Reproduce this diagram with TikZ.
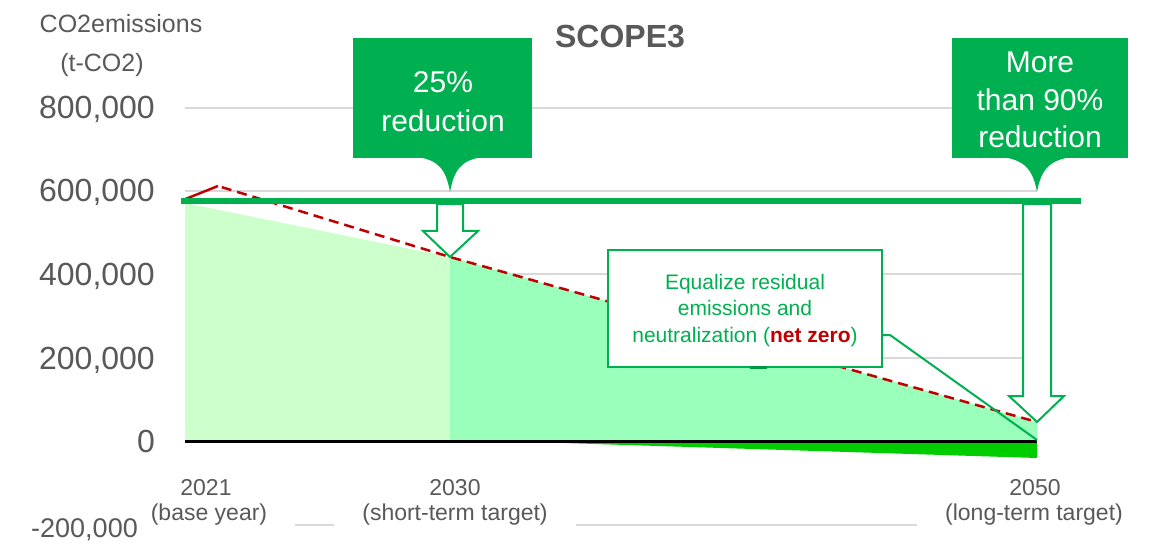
\documentclass[tikz,border=0pt]{standalone}
\usepackage{fontspec}
\setmainfont{Liberation Sans}
\definecolor{cgreen}{HTML}{00B050}
\definecolor{cred}{HTML}{C00000}
\definecolor{fillA}{HTML}{CCFFCC}
\definecolor{fillB}{HTML}{99FFBB}
\definecolor{fillC}{HTML}{00CC00}
\definecolor{gridgray}{HTML}{D9D9D9}
\definecolor{txtgray}{HTML}{595959}
\begin{document}
\begin{tikzpicture}[x=1pt,y=-1pt,
  gridline/.style={draw=gridgray, line width=2pt},
  ticklab/.style={anchor=base east, text=txtgray, inner sep=0pt, font=\fontsize{32}{32}\selectfont},
  xlab/.style={anchor=base, text=txtgray, inner sep=0pt, font=\fontsize{23}{23}\selectfont},
  xlabbg/.style={xlab, fill=white, inner xsep=28pt, inner ysep=4pt},
  calltxt/.style={anchor=base, text=white, inner sep=0pt, font=\fontsize{30}{30}\selectfont},
  boxtxt/.style={anchor=base, text=cgreen, inner sep=0pt, font=\fontsize{21}{21}\selectfont},
  hollow/.style={draw=cgreen, fill=white, line width=2pt, line join=miter},
  callbox/.style={fill=cgreen, inner sep=0pt}
]
\useasboundingbox (0,0) rectangle (1152,548);
% gridlines
\foreach \yy in {108,191,274,358,525} \draw[gridline] (185,\yy) -- (1037,\yy);
% fills
\fill[fillA] (185,203) -- (450,257) -- (450,441) -- (185,441) -- cycle;
\fill[fillB] (450,257) -- (1037,422) -- (1037,441) -- (450,441) -- cycle;
\fill[fillC] (500,441) -- (1037,441) -- (1037,458) -- cycle;
% zero line
\draw[black, line width=3pt] (185,441) -- (1037,441);
% red emissions line
\coordinate (r0) at (183,200);
\coordinate (r1) at (218,186);
\coordinate (r2) at (450,257);
\coordinate (r3) at (1037,422);
\draw[cred, line width=2.5pt, line join=round] (r0) -- (r1);
\draw[cred, line width=2.5pt, dash pattern=on 10pt off 6pt, dash phase=-4pt] (r1) -- (r2) -- (r3);
% hollow arrows
\draw[hollow] (437,204) -- (463,204) -- (463,231) -- (478,231) -- (450,257) -- (423,231) -- (437,231) -- cycle;
\draw[hollow] (1023,204) -- (1051,204) -- (1051,396) -- (1064,396) -- (1037,422) -- (1009,396) -- (1023,396) -- cycle;
% base-year level line
\draw[cgreen, line width=6pt] (181,201) -- (1081,201);
% net zero text box
\node[draw=cgreen, line width=2pt, fill=white, minimum width=274pt, minimum height=117pt, inner sep=0pt] (tb) at (745,308.5) {};
\node[boxtxt] (tb1) at (745,290) {Equalize residual};
\node[boxtxt] (tb2) at (745,316) {emissions and};
\node[boxtxt] (tb3) at (745,342) {neutralization (\textcolor{cred}{\textbf{net zero}})};
\draw[cgreen!85!black, line width=3pt] (750,367) -- (767,367);
\coordinate (lead0) at (882,335);
\coordinate (lead1) at (890,335);
\coordinate (leadtip) at (1037,440);
\draw[cgreen, line width=2pt] (lead0) -- (lead1) -- (leadtip);
% callout 1
\node[callbox, minimum width=179pt, minimum height=120pt] (c1) at (442.5,98) {};
\fill[cgreen] (417,157) .. controls (439,160) and (446,170) .. (450,192) .. controls (454,170) and (461,160) .. (483,157) -- cycle;
\node[calltxt] (c1a) at (443,93) {25\%};
\node[calltxt] (c1b) at (443,132) {reduction};
% callout 2
\node[callbox, minimum width=176pt, minimum height=120pt] (c2) at (1040,98) {};
\fill[cgreen] (1002,157) .. controls (1025,160) and (1033,170) .. (1037,192) .. controls (1041,170) and (1049,160) .. (1072,157) -- cycle;
\node[calltxt] (c2a) at (1040,73) {More};
\node[calltxt] (c2b) at (1040,111) {than 90\%};
\node[calltxt] (c2c) at (1040,148) {reduction};
% title and axis title
\node[anchor=center, text=txtgray, inner sep=0pt, font=\fontsize{32}{32}\selectfont\bfseries] (title) at (620,37) {SCOPE3};
\node[anchor=base, text=txtgray, inner sep=0pt, font=\fontsize{25}{25}\selectfont] (ax1) at (121,33) {CO2emissions};
\node[anchor=base, text=txtgray, inner sep=0pt, font=\fontsize{25}{25}\selectfont] (ax2) at (102,72) {(t-CO2)};
% y tick labels
\node[ticklab] (t800) at (155,119) {800,000};
\node[ticklab] (t600) at (155,202) {600,000};
\node[ticklab] (t400) at (155,286) {400,000};
\node[ticklab] (t200) at (155,369) {200,000};
\node[ticklab] (t0) at (155,452) {0};
% x labels
\node[xlabbg] (x1b) at (209,520) {(base year)};
\node[xlabbg] (x2b) at (455,520) {(short-term target)};
\node[xlabbg] (x3b) at (1034,520) {(long-term target)};
\node[xlab] (x1a) at (206,495) {2021};
\node[xlab] (x2a) at (455,495) {2030};
\node[xlab] (x3a) at (1035,495) {2050};
\node[ticklab, font=\fontsize{27}{27}\selectfont] (tm200) at (138,537) {-200,000};
\end{tikzpicture}
\end{document}
